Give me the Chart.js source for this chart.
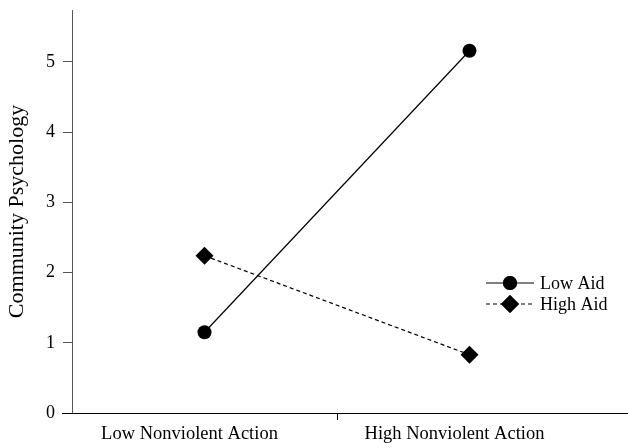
<!DOCTYPE html>
<html>
<head>
<meta charset="utf-8">
<script src="https://cdn.jsdelivr.net/npm/chart.js@4/dist/chart.umd.min.js"></script>
<style>
  html, body { margin: 0; padding: 0; background: #fff; }
  #wrap { width: 628px; height: 448px; }
</style>
</head>
<body>
<div id="wrap"><canvas id="chart"></canvas></div>
<script>
const categories = ["Low Nonviolent Action", "High Nonviolent Action"];
const lowAid = [1.15, 5.16];
const highAid = [2.24, 0.83];
const yTicks = [0, 1, 2, 3, 4, 5];

const FONT = "'Liberation Serif', serif";

// legend drawn by hand so the line style runs through the marker
const lineLegend = {
  id: "lineLegend",
  afterDraw(chart) {
    const c = chart.ctx;
    const x0 = 486, x1 = 534, rowH = 21, top = 283;
    chart.data.datasets.forEach((ds, i) => {
      const y = top + i * rowH;
      c.save();
      c.strokeStyle = "#000";
      c.lineWidth = 1.2;
      c.setLineDash(ds.borderDash || []);
      c.beginPath();
      c.moveTo(x0, y);
      c.lineTo(x1, y);
      c.stroke();
      c.setLineDash([]);
      Chart.helpers.drawPoint(c, {
        pointStyle: ds.pointStyle,
        radius: ds.pointRadius,
        borderWidth: 0
      }, (x0 + x1) / 2, y);
      c.fillStyle = "#000";
      c.fill();
      c.font = "18px " + FONT;
      c.textBaseline = "middle";
      c.fillText(ds.label, x1 + 6, y + 1);
      c.restore();
    });
  }
};

// x axis line runs a little past the y axis and to the right edge
const xAxisLine = {
  id: "xAxisLine",
  afterDraw(chart) {
    const c = chart.ctx;
    const y = chart.chartArea.bottom + 0.5;
    c.save();
    c.strokeStyle = "#000";
    c.lineWidth = 1;
    c.beginPath();
    c.moveTo(62, y);
    c.lineTo(628, y);
    c.stroke();
    c.restore();
  }
};

new Chart(document.getElementById("chart"), {
  type: "line",
  data: {
    labels: categories,
    datasets: [
      {
        label: "Low Aid",
        data: lowAid,
        borderColor: "#000",
        backgroundColor: "#000",
        borderWidth: 1.2,
        pointStyle: "circle",
        pointRadius: 7,
        pointBorderWidth: 0,
        tension: 0,
        fill: false
      },
      {
        label: "High Aid",
        data: highAid,
        borderColor: "#000",
        backgroundColor: "#000",
        borderWidth: 1.2,
        borderDash: [4, 3],
        pointStyle: "rectRot",
        pointRadius: 9,
        pointBorderWidth: 0,
        tension: 0,
        fill: false
      }
    ]
  },
  options: {
    responsive: true,
    maintainAspectRatio: false,
    animation: false,
    layout: { padding: { top: 10, right: 26, left: 0, bottom: 0 } },
    plugins: {
      legend: { display: false },
      tooltip: { enabled: false }
    },
    scales: {
      x: {
        offset: true,
        afterFit(scale) { scale.height = 35; },
        border: { display: false },
        grid: {
          offset: true,
          drawOnChartArea: false,
          tickLength: 7,
          color: (ctx) => (ctx.index === 1 ? "#000" : "rgba(0,0,0,0)")
        },
        ticks: {
          color: "#000",
          padding: 3,
          labelOffset: -15,
          font: { family: FONT, size: 18.5 }
        }
      },
      y: {
        min: 0,
        max: 5.74,
        afterFit(scale) {
          scale.width = 72;
          scale.paddingTop = 0;
          scale.paddingBottom = 0;
        },
        afterBuildTicks(scale) { scale.ticks = yTicks.map((v) => ({ value: v })); },
        border: { display: true, color: "#555", width: 1 },
        grid: {
          drawOnChartArea: false,
          tickLength: 9,
          color: "#555"
        },
        ticks: {
          color: "#000",
          padding: 8,
          font: { family: FONT, size: 18 }
        },
        title: {
          display: true,
          text: "Community Psychology",
          color: "#000",
          padding: { top: 4, bottom: 0 },
          font: { family: FONT, size: 22 }
        }
      }
    }
  },
  plugins: [lineLegend, xAxisLine]
});
</script>
</body>
</html>
